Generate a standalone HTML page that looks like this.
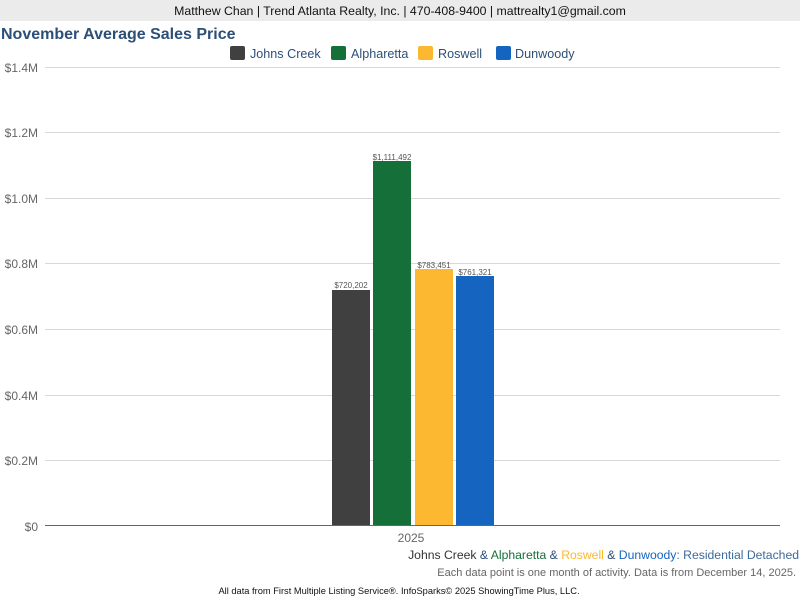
<!DOCTYPE html>
<html><head><style>
body{margin:0;width:800px;height:600px;background:#fff;font-family:"Liberation Sans",sans-serif;overflow:hidden}
</style></head><body>
<svg width="800" height="600" xmlns="http://www.w3.org/2000/svg" font-family="Liberation Sans, sans-serif">
<rect x="0" y="0" width="800" height="21" fill="#ebebeb"/>
<text x="400" y="15" font-size="12.3" text-anchor="middle" fill="#111">Matthew Chan | Trend Atlanta Realty, Inc. | 470-408-9400 | mattrealty1@gmail.com</text>
<text x="1" y="39" font-size="16" font-weight="bold" fill="#2c4f78">November Average Sales Price</text>
<g font-size="12.6" fill="#2c4f78">
<rect x="230" y="46" width="15" height="14" rx="2" fill="#404040"/><text x="250" y="58">Johns Creek</text>
<rect x="331" y="46" width="15" height="14" rx="2" fill="#147038"/><text x="351" y="58">Alpharetta</text>
<rect x="418" y="46" width="15" height="14" rx="2" fill="#fbb830"/><text x="438" y="58">Roswell</text>
<rect x="496" y="46" width="15" height="14" rx="2" fill="#1565c0"/><text x="515" y="58">Dunwoody</text>
</g>
<g stroke="#d8d8d8" stroke-width="1">
<line x1="45" x2="780" y1="67.5" y2="67.5"/><line x1="45" x2="780" y1="132.5" y2="132.5"/>
<line x1="45" x2="780" y1="198.5" y2="198.5"/><line x1="45" x2="780" y1="263.5" y2="263.5"/>
<line x1="45" x2="780" y1="329.5" y2="329.5"/><line x1="45" x2="780" y1="395.5" y2="395.5"/>
<line x1="45" x2="780" y1="460.5" y2="460.5"/>
</g>
<g font-size="12" fill="#666" text-anchor="end">
<text x="38" y="72">$1.4M</text><text x="38" y="137">$1.2M</text><text x="38" y="203">$1.0M</text>
<text x="38" y="268">$0.8M</text><text x="38" y="334">$0.6M</text><text x="38" y="400">$0.4M</text>
<text x="38" y="465">$0.2M</text><text x="38" y="531">$0</text>
</g>
<rect x="332" y="290" width="38" height="236" fill="#404040"/>
<rect x="373" y="161" width="38" height="365" fill="#147038"/>
<rect x="415" y="269" width="38" height="257" fill="#fbb830"/>
<rect x="456" y="276" width="38" height="250" fill="#1565c0"/>
<g font-size="8" fill="#555" text-anchor="middle">
<text x="351" y="288">$720,202</text><text x="392" y="160">$1,111,492</text>
<text x="434" y="268">$783,451</text><text x="475" y="275">$761,321</text>
</g>
<line x1="45" x2="780" y1="525.5" y2="525.5" stroke="#666"/>
<text x="411" y="542" font-size="12" fill="#666" text-anchor="middle">2025</text>
<text x="799" y="559" font-size="12.2" text-anchor="end"><tspan fill="#333">Johns Creek</tspan><tspan fill="#2c4f78"> &amp; </tspan><tspan fill="#147038">Alpharetta</tspan><tspan fill="#2c4f78"> &amp; </tspan><tspan fill="#fbb830">Roswell</tspan><tspan fill="#2c4f78"> &amp; </tspan><tspan fill="#1565c0">Dunwoody</tspan><tspan fill="#3d6a9a">: Residential Detached</tspan></text>
<text x="796" y="576" font-size="11" fill="#666" text-anchor="end">Each data point is one month of activity. Data is from December 14, 2025.</text>
<text x="399" y="594" font-size="9.3" fill="#111" text-anchor="middle">All data from First Multiple Listing Service®. InfoSparks© 2025 ShowingTime Plus, LLC.</text>
</svg>
</body></html>
